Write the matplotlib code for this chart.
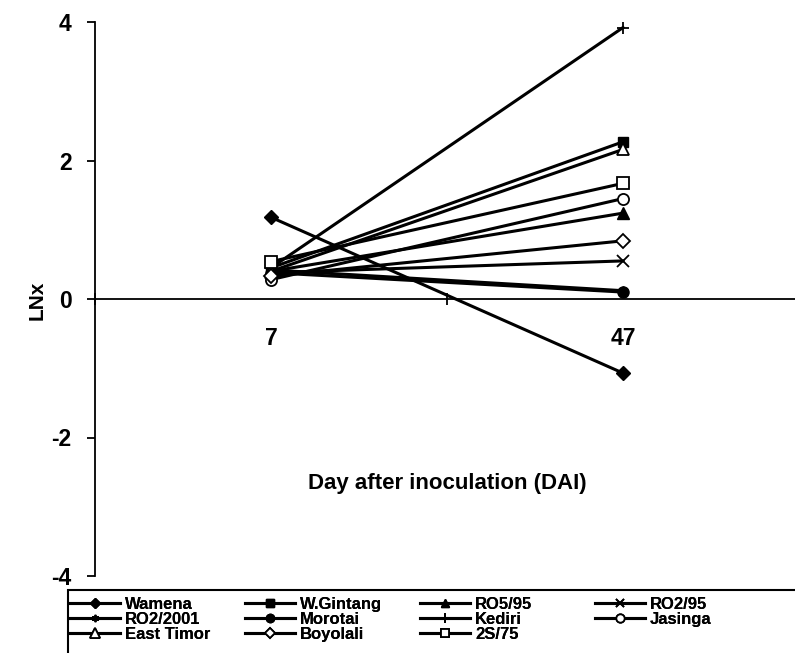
import matplotlib
matplotlib.use("Agg")
import matplotlib.pyplot as plt
from matplotlib.patches import Rectangle

plt.rcParams['font.family'] = ['Liberation Sans', 'DejaVu Sans']

days = ["7", "47"]
series = ["Wamena", "W.Gintang", "RO5/95", "RO2/95", "RO2/2001", "Morotai",
          "Kediri", "Jasinga", "East Timor", "Boyolali", "2S/75"]
wamena = [1.18, -1.07]
wgintang = [0.45, 2.27]
ro595 = [0.40, 1.24]
ro295 = [0.38, 0.55]
ro22001 = [0.42, 0.12]
morotai = [0.38, 0.10]
kediri = [0.45, 3.92]
jasinga = [0.28, 1.45]
easttimor = [0.40, 2.16]
boyolali = [0.33, 0.84]
s275 = [0.54, 1.67]
values = [wamena, wgintang, ro595, ro295, ro22001, morotai, kediri, jasinga,
          easttimor, boyolali, s275]
yticks = [-4, -2, 0, 2, 4]

styles = {
    "Wamena": dict(marker='D', mfc='black', ms=7),
    "W.Gintang": dict(marker='s', mfc='black', ms=7),
    "RO5/95": dict(marker='^', mfc='black', ms=8),
    "RO2/95": dict(marker='x', mfc='black', ms=8, mew=1.3),
    "RO2/2001": dict(marker=(6, 2, 0), mfc='black', ms=7, mew=1.2),
    "Morotai": dict(marker='o', mfc='black', ms=8),
    "Kediri": dict(marker='+', mfc='black', ms=9, mew=1.3),
    "Jasinga": dict(marker='o', mfc='white', ms=8, mew=1.3),
    "East Timor": dict(marker='^', mfc='white', ms=9, mew=1.3),
    "Boyolali": dict(marker='D', mfc='white', ms=7, mew=1.3),
    "2S/75": dict(marker='s', mfc='white', ms=8, mew=1.3),
}

W, H = 795, 653
fig = plt.figure(figsize=(W / 100, H / 100), dpi=100)
ax = fig.add_axes([95 / W, (H - 576) / H, 704 / W, 554 / H])

xpos = [0.5, 1.5]
handles = {}
for name, vals in zip(series, values):
    st = styles[name]
    ln, = ax.plot(xpos, vals, color='black', lw=2.2, mec='black',
                  label=name, clip_on=False, **st)
    handles[name] = ln

ax.set_xlim(0, 2)
ax.set_ylim(-4, 4)
ax.spines['top'].set_visible(False)
ax.spines['right'].set_visible(False)
ax.spines['bottom'].set_position(('data', 0))
ax.spines['left'].set_linewidth(1.3)
ax.spines['bottom'].set_linewidth(1.3)

ax.set_yticks(yticks)
ax.set_yticklabels([str(v) for v in yticks], fontsize=16.5, fontweight='bold')
ax.tick_params(axis='y', direction='out', length=6, width=1.3, pad=11)

ax.set_xticks([0, 1, 2])
ax.set_xticklabels([])
ax.tick_params(axis='x', which='major', direction='inout', length=8, width=1.3)
ax.set_xticks(xpos, minor=True)
ax.set_xticklabels(days, minor=True, fontsize=16.5, fontweight='bold')
ax.tick_params(axis='x', which='minor', length=0, pad=20)

fig.text(37 / W, 1 - 300 / H, "LNx", rotation=90, fontsize=15,
         fontweight='bold', ha='center', va='center')
fig.text(447 / W, 1 - 483 / H, "Day after inoculation (DAI)", fontsize=16,
         fontweight='bold', ha='center', va='center')

# legend frame
fig.patches.append(Rectangle((68 / W, -0.02), 1.0, (H - 590) / H + 0.02,
                             transform=fig.transFigure, fill=False,
                             edgecolor='black', lw=1.5))

columns = [["Wamena", "RO2/2001", "East Timor"],
           ["W.Gintang", "Morotai", "Boyolali"],
           ["RO5/95", "Kediri", "2S/75"],
           ["RO2/95", "Jasinga"]]
col_x = [70, 245, 420, 595]
for cx, names in zip(col_x, columns):
    leg = fig.legend([handles[n] for n in names], names, ncol=1,
                     loc='upper left', bbox_to_anchor=(cx / W, 1 - 597 / H),
                     frameon=False, prop=dict(size=12, weight='bold'),
                     handlelength=3.0, handletextpad=0.3,
                     labelspacing=0.0, borderaxespad=0, borderpad=0.0,
                     markerscale=0.75)
    fig.add_artist(leg)

fig.savefig("out.png", dpi=100)
